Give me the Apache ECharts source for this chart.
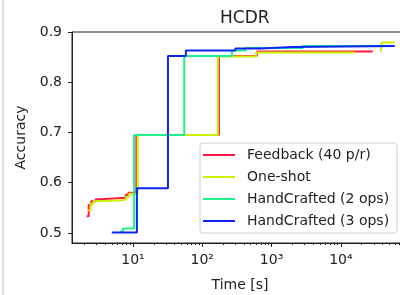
<!DOCTYPE html>
<html>
<head>
<meta charset="utf-8">
<script src="https://cdn.jsdelivr.net/npm/echarts@6/dist/echarts.min.js"></script>
<style>
  html, body { margin: 0; padding: 0; background: #fff; overflow: hidden; }
  #main { width: 420px; height: 295px; }
</style>
</head>
<body>
<div id="main"></div>
<script>
// step curves, [time in s, accuracy]
var feedback = [[2.15,0.533],[2.3,0.556],[2.5,0.563],[2.9,0.567],[3.4,0.570],[7.9,0.576],[8.6,0.580],[11.2,0.695],[174,0.852],[615,0.861],[28800,0.861]];
var oneShot = [[2.25,0.545],[2.45,0.558],[2.7,0.563],[3.1,0.565],[7.0,0.567],[8.0,0.572],[8.8,0.578],[11.7,0.695],[168,0.851],[600,0.859],[15900,null],[37500,0.861],[38800,0.879],[60000,0.879]];
var hand2 = [[6.5,0.503],[7.2,0.509],[10.4,0.695],[55,0.852],[268,0.863],[420,0.868],[2800,0.872],[50000,0.872]];
var hand3 = [[4.95,0.501],[11.4,0.589],[32,0.852],[58,0.863],[300,0.867],[700,0.870],[2000,0.872],[60000,0.872]];

var seriesNames = ['Feedback (40 p/r)', 'One-shot', 'HandCrafted (2 ops)', 'HandCrafted (3 ops)'];
var seriesColors = ['#ff1744', '#ccee00', '#1ff08c', '#0a24f5'];

var yTicks = [0.5, 0.6, 0.7, 0.8, 0.9];
var xTicks = [10, 100, 1000, 10000];
var xTickLabels = {10: '10¹', 100: '10²', 1000: '10³', 10000: '10⁴'};
var xMinorTicks = [];
[1, 10, 100, 1000, 10000].forEach(function (d) {
  for (var k = 2; k <= 9; k++) xMinorTicks.push(k * d);
});

var chart = echarts.init(document.getElementById('main'));
var font = 'DejaVu Sans';
var xMin = 1.32, xMax = 93000;

function mk(i, data) {
  return {
    name: seriesNames[i],
    type: 'line',
    step: 'end',
    data: data,
    symbol: 'none',
    z: 2 + i,
    lineStyle: { color: seriesColors[i], width: 2 },
    itemStyle: { color: seriesColors[i] }
  };
}

var option = {
  animation: false,
  textStyle: { fontFamily: font },
  title: {
    text: 'HCDR',
    left: 215,
    top: 5,
    textStyle: { fontFamily: font, fontSize: 17, fontWeight: 'normal', color: '#222' }
  },
  grid: {
    left: 72, top: 32, width: 336, height: 211,
    show: true, borderColor: '#222', borderWidth: 1,
    outerBoundsMode: 'none'
  },
  legend: {
    orient: 'vertical',
    left: 200, top: 143,
    padding: [5, 8, 5, 3],
    icon: 'path://M0,0L32,0L32,2L0,2Z',
    itemWidth: 32, itemHeight: 14, itemGap: 8,
    backgroundColor: 'rgba(255,255,255,0.85)',
    borderColor: '#d0d0d0', borderWidth: 1, borderRadius: 3,
    data: seriesNames,
    textStyle: { fontFamily: font, fontSize: 14, color: '#222', padding: [0, 0, 0, 7] }
  },
  xAxis: [{
    type: 'log',
    min: xMin, max: xMax,
    name: 'Time [s]',
    nameLocation: 'middle',
    nameGap: 35,
    nameTextStyle: { fontFamily: font, fontSize: 14, color: '#222' },
    axisLine: { lineStyle: { color: '#222' } },
    axisTick: { customValues: xTicks, length: 4, lineStyle: { color: '#222' } },
    axisLabel: {
      customValues: xTicks, margin: 10,
      fontFamily: font, fontSize: 14, color: '#222',
      formatter: function (v) { return xTickLabels[Math.round(v)] || ''; }
    },
    splitLine: { show: false }
  }, {
    type: 'log',
    min: xMin, max: xMax,
    position: 'bottom',
    axisLine: { show: false },
    axisTick: { customValues: xMinorTicks, length: 2, lineStyle: { color: '#222' } },
    axisLabel: { show: false },
    splitLine: { show: false }
  }],
  yAxis: {
    type: 'value',
    min: 0.48, max: 0.9,
    name: 'Accuracy',
    nameLocation: 'middle',
    nameGap: 40,
    nameTextStyle: { fontFamily: font, fontSize: 14, color: '#222' },
    axisLine: { show: true, lineStyle: { color: '#222' } },
    axisTick: { show: true, customValues: yTicks, length: 4, lineStyle: { color: '#222' } },
    axisLabel: {
      customValues: yTicks, margin: 10,
      fontFamily: font, fontSize: 14, color: '#222',
      formatter: function (v) { return v.toFixed(1); }
    },
    splitLine: { show: false }
  },
  graphic: [{
    type: 'line',
    shape: { x1: 3, y1: 0, x2: 3, y2: 295 },
    style: { stroke: '#bbb', lineWidth: 1 }
  }],
  series: [mk(0, feedback), mk(1, oneShot), mk(2, hand2), mk(3, hand3)]
};
chart.setOption(option);
</script>
</body>
</html>
